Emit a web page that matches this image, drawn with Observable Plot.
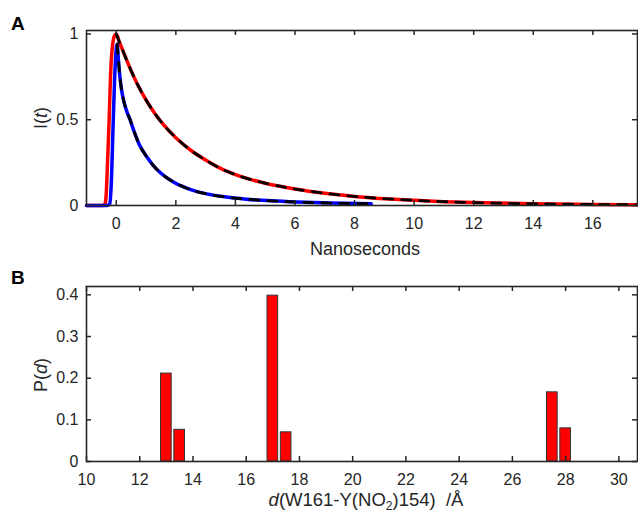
<!DOCTYPE html>
<html>
<head>
<meta charset="utf-8">
<script src="https://cdn.jsdelivr.net/npm/d3@7"></script>
<script src="https://cdn.jsdelivr.net/npm/@observablehq/plot@0.6"></script>
<style>
  html, body { margin: 0; padding: 0; background: #fff; overflow: hidden; }
  #wrap { position: relative; width: 638px; height: 518px; font-family: "Liberation Sans", Arial, sans-serif; color: #262626; }
  .panel { position: absolute; left: 0; }
  .lbl { position: absolute; white-space: nowrap; line-height: 1; font-size: 18px; color: #262626; }
  .letter { position: absolute; font-weight: bold; font-size: 19px; line-height: 1; color: #000; }
  sub { font-size: 12px; vertical-align: -4px; line-height: 0; }
</style>
</head>
<body>
<div id="wrap">
  <div class="panel" id="pa" style="top:0"></div>
  <div class="panel" id="pb" style="top:260px"></div>
  <div class="letter" style="left:11px; top:14px">A</div>
  <div class="letter" style="left:11px; top:268px">B</div>
  <div class="lbl" style="left:365px; top:240px; transform:translateX(-50%)">Nanoseconds</div>
  <div class="lbl" style="left:366px; top:491px; transform:translateX(-50%); font-size:18.5px"><i>d</i>(W161-Y(NO<sub>2</sub>)154)&nbsp;&nbsp;/Å</div>
  <div class="lbl" style="left:41px; top:118px; transform:translate(-50%,-50%) rotate(-90deg)">I(<i>t</i>)</div>
  <div class="lbl" style="left:41px; top:375px; transform:translate(-50%,-50%) rotate(-90deg)">P(<i>d</i>)</div>
</div>
<script>
// ---- Panel A data: fluorescence decays ----
const tRed = [-1, -0.45, -0.38, -0.34, -0.30, -0.25, -0.17, -0.06, 0, 0.1, 0.25, 0.45, 0.7, 1.0, 1.3, 1.6, 2.0, 2.5, 3.0, 3.5, 4.0, 4.5, 5.0, 6.0, 7.0, 8.0, 9.0, 10.0, 11.0, 12.0, 14.0, 16.0, 17.5];
const iRed = [0, 0, 0.01, 0.06, 0.22, 0.45, 0.84, 0.99, 1.0, 0.955, 0.89, 0.805, 0.71, 0.615, 0.535, 0.468, 0.395, 0.322, 0.265, 0.216, 0.180, 0.152, 0.130, 0.096, 0.071, 0.053, 0.040, 0.030, 0.0225, 0.017, 0.010, 0.006, 0.004];
const tBlue = [-1, -0.3, -0.22, -0.17, -0.11, -0.06, -0.02, 0.03, 0.07, 0.11, 0.18, 0.25, 0.35, 0.45, 0.6, 0.78, 1.0, 1.23, 1.5, 1.9, 2.3, 2.68, 3.2, 3.69, 4.36, 5.2, 6.06, 7.2, 8.56];
const iBlue = [0, 0, 0.01, 0.12, 0.45, 0.72, 0.87, 0.94, 0.85, 0.77, 0.67, 0.61, 0.55, 0.506, 0.43, 0.352, 0.29, 0.236, 0.188, 0.139, 0.105, 0.082, 0.062, 0.049, 0.037, 0.027, 0.020, 0.014, 0.010];
const fitStartRed = 0;
const fitStartBlue = 0.03;
const xTicksA = [0, 2, 4, 6, 8, 10, 12, 14, 16];
const yTicksA = [0, 0.5, 1];
const yTickLabelsA = ["0", "0.5", "1"];

// ---- Panel B data: distance distribution ----
const distances = [13, 13.5, 17, 17.5, 27.5, 28];
const probs = [0.211, 0.076, 0.398, 0.070, 0.166, 0.0795];
const xTicksB = [10, 12, 14, 16, 18, 20, 22, 24, 26, 28, 30];
const yTicksB = [0, 0.1, 0.2, 0.3, 0.4];
const yTickLabelsB = ["0", "0.1", "0.2", "0.3", "0.4"];

const red = tRed.map((t, i) => ({t, v: iRed[i]}));
const blue = tBlue.map((t, i) => ({t, v: iBlue[i]}));
const bars = distances.map((d, i) => ({d, p: probs[i]}));

const AX = "#262626";
const style = {fontFamily: "'Liberation Sans', Arial, sans-serif", fontSize: "16px", color: AX, background: "transparent", overflow: "visible"};

function innerTicks(xt, yt, ph, pw, len) {
  return [
    Plot.tickX(xt, {x: d => d, insetTop: ph - len, stroke: AX, strokeWidth: 1.5}),
    Plot.tickX(xt, {x: d => d, insetBottom: ph - len, stroke: AX, strokeWidth: 1.5}),
    Plot.tickY(yt, {y: d => d, insetRight: pw - len, stroke: AX, strokeWidth: 1.5}),
    Plot.tickY(yt, {y: d => d, insetLeft: pw - len, stroke: AX, strokeWidth: 1.5})
  ];
}

// Panel A
const WA = 638, HA = 260, mlA = 86, mrA = 1, mtA = 30, mbA = 55;
const plotA = Plot.plot({
  width: WA, height: HA,
  marginLeft: mlA, marginRight: mrA, marginTop: mtA, marginBottom: mbA,
  style,
  x: {domain: [-1, 17.5]},
  y: {domain: [0, 1.02]},
  marks: [
    Plot.axisX({ticks: xTicksA, tickSize: 0, tickPadding: 12, label: null, fontSize: 16, fill: AX}),
    Plot.axisY({ticks: yTicksA, tickSize: 0, tickPadding: 8, label: null, fontSize: 16, fill: AX,
      tickFormat: d => yTickLabelsA[yTicksA.indexOf(d)]}),
    Plot.line(red, {x: "t", y: "v", stroke: "#ff0000", strokeWidth: 3.5, curve: "monotone-x"}),
    Plot.line(blue, {x: "t", y: "v", stroke: "#0000ff", strokeWidth: 3.5, curve: "monotone-x"}),
    Plot.line(red.filter(d => d.t >= fitStartRed), {x: "t", y: "v", stroke: "#000", strokeWidth: 2.8, strokeDasharray: "9,9", curve: "monotone-x"}),
    Plot.line(blue.filter(d => d.t >= fitStartBlue), {x: "t", y: "v", stroke: "#000", strokeWidth: 2.8, strokeDasharray: "9,9", curve: "monotone-x"}),
    Plot.frame({stroke: AX, strokeWidth: 1.6}),
    ...innerTicks(xTicksA, yTicksA, HA - mtA - mbA, WA - mlA - mrA, 5)
  ]
});
document.getElementById("pa").appendChild(plotA);

// Panel B
const WB = 638, HB = 258, mlB = 86, mrB = 1, mtB = 26, mbB = 57;
const plotB = Plot.plot({
  width: WB, height: HB,
  marginLeft: mlB, marginRight: mrB, marginTop: mtB, marginBottom: mbB,
  style,
  x: {domain: [10, 30.7]},
  y: {domain: [0, 0.42]},
  marks: [
    Plot.axisX({ticks: xTicksB, tickSize: 0, tickPadding: 12, label: null, fontSize: 16, fill: AX}),
    Plot.axisY({ticks: yTicksB, tickSize: 0, tickPadding: 8, label: null, fontSize: 16, fill: AX,
      tickFormat: d => yTickLabelsB[yTicksB.indexOf(d)]}),
    Plot.rectY(bars, {x1: d => d.d - 0.2, x2: d => d.d + 0.2, y: "p", fill: "#ff0000", stroke: "#333", strokeWidth: 1}),
    Plot.frame({stroke: AX, strokeWidth: 1.6}),
    ...innerTicks(xTicksB, yTicksB, HB - mtB - mbB, WB - mlB - mrB, 5)
  ]
});
document.getElementById("pb").appendChild(plotB);
</script>
</body>
</html>
